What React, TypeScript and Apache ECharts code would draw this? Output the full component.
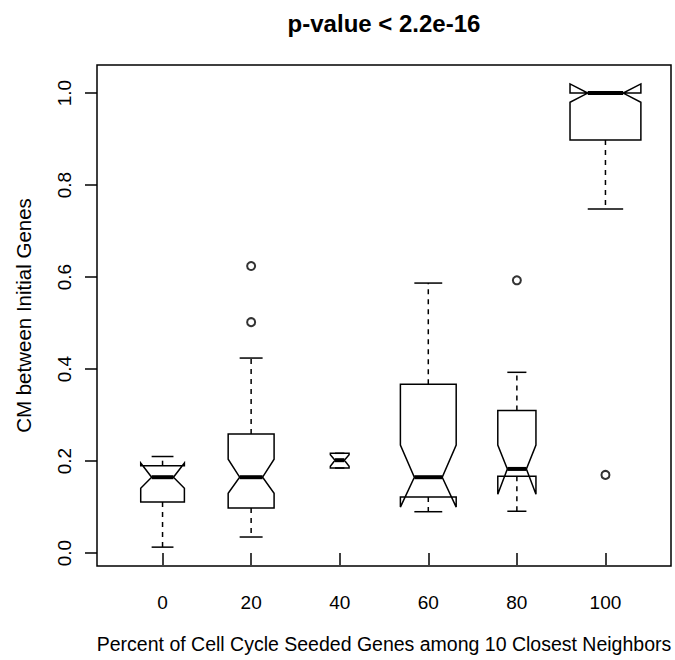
import React, { useEffect, useRef } from "react";
import * as echarts from "echarts";

// ---- data ----
const xTickLabels = ["0", "20", "40", "60", "80", "100"];
const yTickValues = [0, 0.2, 0.4, 0.6, 0.8, 1.0];
const groupIndex = [1, 2, 3, 4, 5, 6];
const lowerWhisker = [0.013, 0.035, 0.185, 0.09, 0.091, 0.748];
const quartile1 = [0.111, 0.098, 0.185, 0.122, 0.167, 0.898];
const medians = [0.165, 0.165, 0.202, 0.165, 0.183, 1.0];
const quartile3 = [0.19, 0.259, 0.217, 0.367, 0.31, 1.0];
const upperWhisker = [0.21, 0.424, 0.217, 0.587, 0.393, 1.0];
const notchLow = [0.141, 0.13, 0.189, 0.1, 0.128, 0.98];
const notchHigh = [0.196, 0.204, 0.214, 0.235, 0.235, 1.02];
const sampleSize = [38, 42, 7, 62, 29, 100];
const outlierGroup = [2, 2, 5, 6];
const outlierValue = [0.624, 0.502, 0.593, 0.17];

const titleText = "p-value < 2.2e-16";
const xTitle = "Percent of Cell Cycle Seeded Genes among 10 Closest Neighbors";
const yTitle = "CM between Initial Genes";

const FONT = "'Liberation Sans', Arial, Helvetica, sans-serif";

export default function App() {
  const ref = useRef<HTMLDivElement>(null);
  useEffect(() => {
    if (!ref.current) return;
    const chart = echarts.init(ref.current, undefined, { renderer: "svg" });
    const nMax = Math.max(...sampleSize);
    const boxData = groupIndex.map((g, i) => [
      g,
      lowerWhisker[i],
      quartile1[i],
      medians[i],
      quartile3[i],
      upperWhisker[i],
      notchLow[i],
      notchHigh[i],
      sampleSize[i],
    ]);
    const outliers = outlierGroup.map((g, i) => [g, outlierValue[i]]);
    const lw = 1.5;
    const stroke = "#000";

    chart.setOption({
      animation: false,
      backgroundColor: "#fff",
      graphic: [
        {
          type: "text",
          x: 384,
          y: 23,
          style: {
            text: titleText,
            font: `bold 24px ${FONT}`,
            fill: "#000",
            align: "center",
            verticalAlign: "middle",
          },
        },
      ],
      grid: {
        left: 97,
        top: 65,
        width: 574,
        height: 501,
        containLabel: false,
        outerBoundsMode: "none",
        show: true,
        borderColor: "#000",
        borderWidth: 1.5,
        backgroundColor: "transparent",
      },
      xAxis: {
        type: "value",
        min: 0.26,
        max: 6.74,
        axisLine: { show: false },
        splitLine: { show: false },
        axisTick: {
          show: true,
          inside: false,
          length: 12,
          lineStyle: { color: "#000", width: lw },
          customValues: groupIndex,
        },
        axisLabel: {
          customValues: groupIndex,
          formatter: (v: number) => xTickLabels[Math.round(v) - 1] ?? "",
          color: "#000",
          fontFamily: FONT,
          fontSize: 19,
          margin: 27,
        },
        name: xTitle,
        nameLocation: "middle",
        nameGap: 68,
        nameTextStyle: { color: "#000", fontFamily: FONT, fontSize: 19.5 },
      },
      yAxis: {
        type: "value",
        min: -0.028,
        max: 1.061,
        axisLine: { show: false },
        splitLine: { show: false },
        axisTick: {
          show: true,
          inside: false,
          length: 12,
          lineStyle: { color: "#000", width: lw },
          customValues: yTickValues,
        },
        axisLabel: {
          customValues: yTickValues,
          formatter: (v: number) => v.toFixed(1),
          rotate: 90,
          color: "#000",
          fontFamily: FONT,
          fontSize: 19,
          margin: 23,
        },
        name: yTitle,
        nameLocation: "middle",
        nameGap: 63,
        nameTextStyle: { color: "#000", fontFamily: FONT, fontSize: 20.5 },
      },
      series: [
        {
          type: "custom",
          data: boxData,
          encode: { x: 0, y: [1, 2, 3, 4, 5, 6, 7] },
          renderItem: (params: any, api: any) => {
            const g = api.value(0);
            const lo = api.value(1);
            const q1 = api.value(2);
            const med = api.value(3);
            const q3 = api.value(4);
            const hi = api.value(5);
            const nl = api.value(6);
            const nh = api.value(7);
            const n = api.value(8);
            const unit = api.size([1, 0])[0];
            const hw = 0.4 * unit * Math.sqrt(n / nMax);
            const cx = api.coord([g, med])[0];
            const Y = (v: number) => api.coord([g, v])[1];
            const line = (x1: number, y1: number, x2: number, y2: number, extra: any = {}) => ({
              type: "line",
              shape: { x1, y1, x2, y2 },
              style: { stroke, lineWidth: lw, ...extra },
            });
            const children: any[] = [
              {
                type: "polygon",
                shape: {
                  points: [
                    [cx - hw, Y(q1)],
                    [cx + hw, Y(q1)],
                    [cx + hw, Y(nl)],
                    [cx + hw / 2, Y(med)],
                    [cx + hw, Y(nh)],
                    [cx + hw, Y(q3)],
                    [cx - hw, Y(q3)],
                    [cx - hw, Y(nh)],
                    [cx - hw / 2, Y(med)],
                    [cx - hw, Y(nl)],
                  ],
                },
                style: { fill: "none", stroke, lineWidth: lw },
              },
              line(cx - hw / 2, Y(med), cx + hw / 2, Y(med), { lineWidth: 4 }),
            ];
            if (hi > q3) {
              children.push(line(cx, Y(q3), cx, Y(hi), { lineDash: [5, 5] }));
            }
            children.push(line(cx - hw / 2, Y(hi), cx + hw / 2, Y(hi)));
            if (lo < q1) {
              children.push(line(cx, Y(q1), cx, Y(lo), { lineDash: [5, 5] }));
            }
            children.push(line(cx - hw / 2, Y(lo), cx + hw / 2, Y(lo)));
            return { type: "group", children };
          },
          z: 2,
        },
        {
          type: "scatter",
          data: outliers,
          symbol: "emptyCircle",
          symbolSize: 8,
          itemStyle: { color: "#000", borderColor: "#000", borderWidth: 1.2 },
          z: 3,
        },
      ],
    });
    return () => chart.dispose();
  }, []);
  return (
    <div
      ref={ref}
      style={{ position: "absolute", left: 0, top: 0, width: 675, height: 660, background: "#fff" }}
    />
  );
}
